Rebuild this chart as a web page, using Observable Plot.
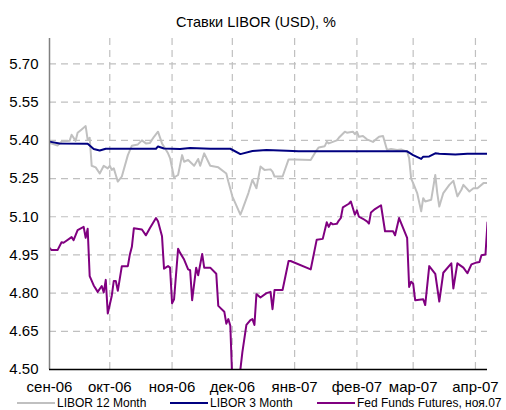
<!DOCTYPE html>
<html><head><meta charset="utf-8">
<script src="https://cdn.jsdelivr.net/npm/d3@7"></script>
<script src="https://cdn.jsdelivr.net/npm/@observablehq/plot@0.6"></script>
<style>
body{margin:0;background:#fff;font-family:"Liberation Sans",Arial,sans-serif;width:506px;height:410px;overflow:hidden;color:#000}
#title{height:34px;box-sizing:border-box;padding-top:14px;padding-left:6px;line-height:16px;text-align:center;font-size:14.5px;}
#chart{height:362px}
#legend{position:relative;height:14px;font-size:12px;}
.item{position:absolute;top:0;display:flex;align-items:center;height:14px;line-height:14px;white-space:nowrap}
.swatch{width:38px;height:2px;margin-right:2px}
</style></head><body>
<div id="title">Ставки LIBOR (USD), %</div>
<div id="chart"></div>
<div id="legend"></div>
<script>
const seriesNames = ["LIBOR 12 Month", "LIBOR 3 Month", "Fed Funds Futures, ноя.07"];
const seriesColors = ["#c0c0c0", "#000080", "#800080"];

const xTickDates = ["2006-09-01","2006-10-01","2006-11-01","2006-12-01","2007-01-01","2007-02-01","2007-03-01","2007-04-01"];
const xTickLabels = ["сен-06","окт-06","ноя-06","дек-06","янв-07","фев-07","мар-07","апр-07"];
const yTicks = [4.50, 4.65, 4.80, 4.95, 5.10, 5.25, 5.40, 5.55, 5.70];
const xDomain = ["2006-09-01", "2007-04-07"];
const yDomain = [4.5, 5.8];

const libor12Dates = ["2006-09-01","2006-09-05","2006-09-07","2006-09-11","2006-09-12","2006-09-14","2006-09-15","2006-09-17","2006-09-19","2006-09-20","2006-09-21","2006-09-22","2006-09-24","2006-09-26","2006-09-28","2006-09-30","2006-10-01","2006-10-02","2006-10-03","2006-10-04","2006-10-05","2006-10-07","2006-10-10","2006-10-12","2006-10-15","2006-10-17","2006-10-19","2006-10-21","2006-10-23","2006-10-25","2006-10-27","2006-10-30","2006-10-31","2006-11-02","2006-11-04","2006-11-06","2006-11-07","2006-11-09","2006-11-12","2006-11-14","2006-11-15","2006-11-17","2006-11-20","2006-11-24","2006-11-28","2006-11-29","2006-12-01","2006-12-05","2006-12-06","2006-12-09","2006-12-11","2006-12-13","2006-12-15","2006-12-17","2006-12-20","2006-12-21","2006-12-22","2006-12-26","2006-12-29","2007-01-01","2007-01-09","2007-01-12","2007-01-13","2007-01-16","2007-01-17","2007-01-18","2007-01-22","2007-01-23","2007-01-26","2007-01-27","2007-01-30","2007-01-31","2007-02-01","2007-02-02","2007-02-04","2007-02-06","2007-02-09","2007-02-12","2007-02-14","2007-02-16","2007-02-18","2007-02-21","2007-02-23","2007-02-26","2007-02-27","2007-02-28","2007-03-01","2007-03-03","2007-03-05","2007-03-06","2007-03-07","2007-03-10","2007-03-12","2007-03-13","2007-03-14","2007-03-16","2007-03-19","2007-03-21","2007-03-23","2007-03-25","2007-03-26","2007-03-29","2007-03-31","2007-04-02","2007-04-05","2007-04-07"];
const libor12Values = [5.39,5.38,5.395,5.398,5.422,5.398,5.43,5.443,5.456,5.402,5.41,5.30,5.294,5.27,5.30,5.29,5.30,5.284,5.29,5.264,5.238,5.258,5.342,5.379,5.384,5.40,5.388,5.39,5.414,5.434,5.388,5.349,5.33,5.254,5.264,5.342,5.316,5.323,5.30,5.327,5.30,5.349,5.30,5.294,5.27,5.238,5.18,5.108,5.128,5.193,5.245,5.212,5.297,5.284,5.286,5.277,5.258,5.258,5.325,5.325,5.323,5.362,5.372,5.377,5.394,5.388,5.40,5.41,5.434,5.43,5.434,5.424,5.434,5.414,5.417,5.404,5.394,5.414,5.417,5.362,5.366,5.362,5.364,5.355,5.33,5.25,5.232,5.193,5.121,5.173,5.16,5.167,5.264,5.193,5.14,5.193,5.225,5.241,5.18,5.206,5.225,5.199,5.212,5.212,5.232,5.232];

const libor3Dates = ["2006-09-01","2006-09-06","2006-09-20","2006-09-23","2006-09-26","2006-09-29","2006-10-24","2006-10-25","2006-10-28","2006-11-05","2006-11-10","2006-11-20","2006-11-30","2006-12-05","2006-12-11","2006-12-18","2006-12-28","2007-01-03","2007-02-26","2007-03-01","2007-03-05","2007-03-06","2007-03-09","2007-03-12","2007-03-14","2007-03-22","2007-03-28","2007-04-07"];
const libor3Values = [5.395,5.388,5.387,5.366,5.36,5.367,5.367,5.376,5.368,5.366,5.37,5.367,5.367,5.346,5.358,5.362,5.359,5.357,5.357,5.342,5.327,5.336,5.337,5.349,5.347,5.344,5.347,5.347];

const fedDates = ["2006-09-01","2006-09-02","2006-09-05","2006-09-07","2006-09-08","2006-09-12","2006-09-13","2006-09-15","2006-09-18","2006-09-19","2006-09-20","2006-09-21","2006-09-23","2006-09-25","2006-09-27","2006-09-28","2006-09-29","2006-09-30","2006-10-02","2006-10-03","2006-10-04","2006-10-05","2006-10-07","2006-10-10","2006-10-11","2006-10-12","2006-10-13","2006-10-17","2006-10-19","2006-10-21","2006-10-24","2006-10-25","2006-10-27","2006-10-28","2006-10-30","2006-10-31","2006-11-01","2006-11-02","2006-11-04","2006-11-05","2006-11-07","2006-11-09","2006-11-10","2006-11-11","2006-11-13","2006-11-14","2006-11-16","2006-11-17","2006-11-20","2006-11-23","2006-11-24","2006-11-27","2006-11-28","2006-11-29","2006-11-30","2006-12-01","2006-12-03","2006-12-05","2006-12-06","2006-12-08","2006-12-10","2006-12-11","2006-12-12","2006-12-13","2006-12-15","2006-12-18","2006-12-20","2006-12-21","2006-12-22","2006-12-26","2006-12-29","2006-12-30","2007-01-09","2007-01-12","2007-01-15","2007-01-17","2007-01-18","2007-01-19","2007-01-20","2007-01-22","2007-01-23","2007-01-24","2007-01-25","2007-01-28","2007-01-29","2007-01-31","2007-02-01","2007-02-02","2007-02-04","2007-02-06","2007-02-07","2007-02-08","2007-02-10","2007-02-13","2007-02-15","2007-02-19","2007-02-20","2007-02-22","2007-02-26","2007-02-27","2007-02-28","2007-03-01","2007-03-02","2007-03-06","2007-03-07","2007-03-09","2007-03-12","2007-03-14","2007-03-16","2007-03-20","2007-03-21","2007-03-23","2007-03-26","2007-03-28","2007-03-30","2007-04-01","2007-04-03","2007-04-04","2007-04-06","2007-04-07"];
const fedValues = [4.978,4.969,4.969,5.0,4.998,5.02,5.008,5.047,5.06,5.017,5.053,4.867,4.83,4.805,4.828,4.803,4.852,4.72,4.79,4.848,4.848,4.809,4.906,4.906,4.952,4.982,5.055,5.05,5.027,5.056,5.095,5.082,5.023,4.896,4.906,4.90,4.76,4.776,4.974,4.958,4.932,4.893,4.89,4.772,4.90,4.87,4.954,4.90,4.90,4.876,4.75,4.727,4.68,4.698,4.672,4.45,4.42,4.50,4.568,4.675,4.694,4.698,4.675,4.796,4.783,4.80,4.805,4.737,4.812,4.812,4.926,4.926,4.893,5.01,5.013,5.078,5.06,5.076,5.07,5.072,5.085,5.095,5.137,5.151,5.16,5.108,5.125,5.10,5.092,5.082,5.073,5.117,5.13,5.145,5.043,5.043,5.027,5.095,5.017,4.824,4.845,4.837,4.772,4.776,4.753,4.906,4.876,4.767,4.88,4.917,4.818,4.917,4.90,4.878,4.913,4.919,4.922,4.949,4.952,5.078];

const toDate = s => new Date(s + "T00:00:00Z");
const ticks = xTickDates.map(toDate);
const gridStyle = {stroke: "#c0c0c0", strokeOpacity: 1, strokeWidth: 1.2, strokeDasharray: "7,5"};

function series(dates, values, color) {
  return Plot.line(values, {x: dates.map(toDate), y: values, stroke: color, strokeWidth: 2, clip: true, curve: "linear"});
}

const chart = Plot.plot({
  width: 506, height: 362,
  marginLeft: 49, marginRight: 19, marginTop: 4, marginBottom: 27,
  style: {fontFamily: "'Liberation Sans', Arial, sans-serif", fontSize: "15px", color: "#000", background: "#fff"},
  x: {type: "utc", domain: xDomain.map(toDate)},
  y: {domain: yDomain},
  marks: [
    Plot.gridX(ticks.slice(1), gridStyle),
    Plot.gridY(yTicks.slice(1), gridStyle),
    series(libor12Dates, libor12Values, seriesColors[0]),
    series(libor3Dates, libor3Values, seriesColors[1]),
    series(fedDates, fedValues, seriesColors[2]),
    Plot.ruleX([toDate(xDomain[0])], {stroke: "#808080", strokeWidth: 1.5}),
    Plot.ruleY([yDomain[0]], {stroke: "#000", strokeWidth: 1.5}),
    Plot.axisX(ticks, {tickFormat: d => xTickLabels[ticks.findIndex(t => +t === +d)], tickSize: 0, tickPadding: 12, label: null}),
    Plot.axisY(yTicks, {tickFormat: d => d.toFixed(2), tickSize: 0, tickPadding: 11, label: null})
  ]
});
document.getElementById("chart").appendChild(chart);

const legendLefts = [17, 170, 317];
const legend = document.getElementById("legend");
seriesNames.forEach((name, i) => {
  const item = document.createElement("div");
  item.className = "item";
  item.style.left = legendLefts[i] + "px";
  const sw = document.createElement("span");
  sw.className = "swatch";
  sw.style.background = seriesColors[i];
  const tx = document.createElement("span");
  tx.textContent = name;
  item.appendChild(sw); item.appendChild(tx);
  legend.appendChild(item);
});
</script>
</body></html>
